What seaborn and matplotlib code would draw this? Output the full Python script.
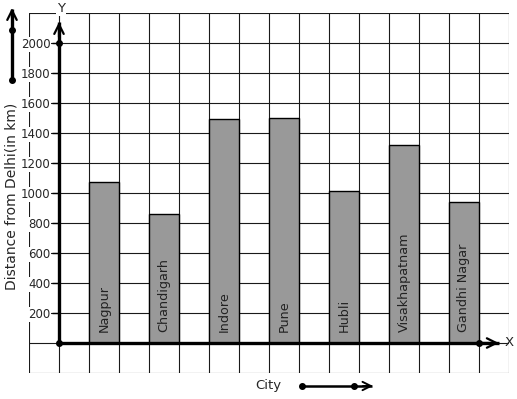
import matplotlib
matplotlib.use("Agg")
import matplotlib.pyplot as plt
import seaborn as sns
import pandas as pd
import numpy as np

cities = ["Nagpur", "Chandigarh", "Indore", "Pune", "Hubli", "Visakhapatnam", "Gandhi Nagar"]
distances = [1075, 860, 1490, 1500, 1010, 1320, 940]
ytick_values = [200, 400, 600, 800, 1000, 1200, 1400, 1600, 1800, 2000]

sns.set_style("white")
plt.rcParams['font.family'] = ['DejaVu Sans']

W, H = 517, 399
fig = plt.figure(figsize=(W / 100, H / 100), dpi=100)
L, R, T, B = 29, 509, 13, 373
ax = fig.add_axes([L / W, 1 - B / H, (R - L) / W, (B - T) / H])

df = pd.DataFrame({"City": cities, "Distance": distances})
sns.barplot(data=df, x="City", y="Distance", order=cities, color="#999999",
            saturation=1, width=0.5, edgecolor="black", linewidth=1.0, ax=ax, zorder=3)

# grid geometry: categorical unit = 2 grid cells
x0 = -0.75  # position of the Y axis
ax.set_xlim(-1.25, 6.75)
ax.set_ylim(-200, 2200)

ax.set_xticks([])
ax.set_xticks(np.arange(-1.25, 6.76, 0.5), minor=True)
ax.set_yticks(ytick_values)
ax.set_yticks(np.arange(-200, 2201, 200), minor=True)
ax.grid(True, which="both", color="#1a1a1a", linewidth=0.8)
ax.set_axisbelow(True)
ax.tick_params(axis="both", which="minor", length=0)
ax.tick_params(axis="y", which="major", length=5, width=1, color="black",
               labelsize=8.5, pad=1, direction="out", left=True)
ax.set_xlabel("")
ax.set_ylabel("")

for s in ["top", "right", "bottom"]:
    ax.spines[s].set_visible(False)
ax.spines["left"].set_position(("data", x0))
ax.spines["left"].set_linewidth(0)

for lab in ax.get_yticklabels():
    lab.set_bbox(dict(facecolor="white", edgecolor="none", pad=0.6))

# city names inside bars
for i, name in enumerate(cities):
    ax.text(i, 72, name, rotation=90, ha="center", va="bottom",
            fontsize=9.2, color="#222222", zorder=5)

# axes with arrows (thick shaft, thin open head)
x_tip = 6.58
y_tip = 2140
ax.plot([x0, x0], [0, y_tip], color="black", lw=2.4, zorder=6, solid_capstyle="butt")
ax.plot([x0, x_tip], [0, 0], color="black", lw=2.4, zorder=6, solid_capstyle="butt")
ax.annotate("", xy=(x0, y_tip), xytext=(x0, y_tip - 100),
            arrowprops=dict(arrowstyle="->", lw=1.6, color="black",
                            shrinkA=0, shrinkB=0, mutation_scale=17), zorder=6)
ax.annotate("", xy=(x_tip, 0), xytext=(x_tip - 0.3, 0),
            arrowprops=dict(arrowstyle="->", lw=1.6, color="black",
                            shrinkA=0, shrinkB=0, mutation_scale=17), zorder=6)
ax.plot([x0, x0, 6.25], [0, 2000, 0], "o", color="black", markersize=4,
        zorder=7, clip_on=False)

def ap(px, py):
    return ((px - L) / (R - L), (B - py) / (B - T))

ax.text(*ap(509, 342), "X", transform=ax.transAxes, ha="center", va="center", fontsize=9.5)
ax.text(*ap(61, 9), "Y", transform=ax.transAxes, ha="center", va="center", fontsize=9.5,
        bbox=dict(facecolor="white", edgecolor="none", pad=0.5), zorder=8)
ax.text(*ap(12, 196), "Distance from Delhi(in km)", transform=ax.transAxes,
        rotation=90, ha="center", va="center", fontsize=10)
ax.text(*ap(268, 385), "City", transform=ax.transAxes, ha="center", va="center", fontsize=9.5)

# decorative arrows outside the grid
ax.plot([ap(12, 8)[0], ap(12, 80)[0]], [ap(12, 9)[1], ap(12, 80)[1]], color="black",
        lw=2.4, transform=ax.transAxes, clip_on=False, solid_capstyle="butt")
ax.annotate("", xy=ap(12, 8), xytext=ap(12, 18), xycoords="axes fraction",
            textcoords="axes fraction",
            arrowprops=dict(arrowstyle="->", lw=1.6, color="black",
                            shrinkA=0, shrinkB=0, mutation_scale=17), annotation_clip=False)
ax.plot([ap(302, 386)[0], ap(372, 386)[0]], [ap(302, 386)[1]] * 2, color="black",
        lw=1.8, transform=ax.transAxes, clip_on=False, solid_capstyle="butt")
ax.annotate("", xy=ap(373, 386), xytext=ap(363, 386), xycoords="axes fraction",
            textcoords="axes fraction",
            arrowprops=dict(arrowstyle="->", lw=1.4, color="black",
                            shrinkA=0, shrinkB=0, mutation_scale=15), annotation_clip=False)
dots = [ap(12, 30), ap(12, 80), ap(302, 386), ap(354, 386)]
ax.plot([d[0] for d in dots], [d[1] for d in dots], "o", color="black",
        markersize=4, transform=ax.transAxes, clip_on=False, zorder=7)

fig.savefig("out.png", dpi=100)
